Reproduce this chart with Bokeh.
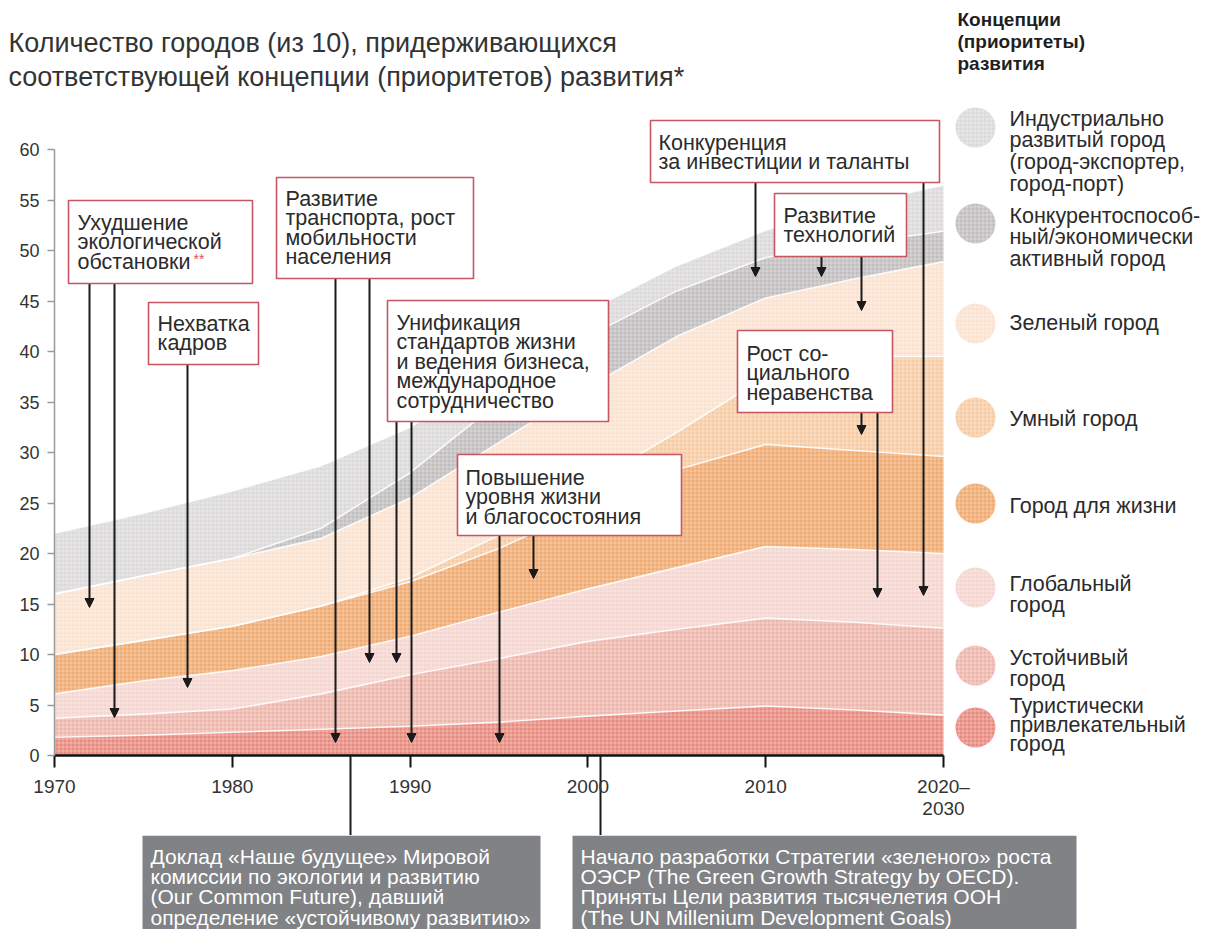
import numpy as np
from bokeh.plotting import figure
from bokeh.layouts import column, row
from bokeh.models import (Range1d, BoxAnnotation, Label, Arrow, NormalHead,
                          FixedTicker, ColumnDataSource, LinearAxis)
from bokeh.embed import file_html
from bokeh.resources import INLINE

# ---------------- data (number of cities per concept) ----------------
years       = [1970, 1975, 1980, 1985, 1990, 1995, 2000, 2005, 2010, 2015, 2020]
tourist     = [1.8, 2.0, 2.3, 2.6, 2.9, 3.3, 3.9, 4.4, 4.9, 4.5, 4.0]
sustainable = [1.9, 2.1, 2.3, 3.5, 5.1, 6.3, 7.4, 8.1, 8.7, 8.7, 8.6]
global_city = [2.4, 3.3, 3.8, 3.7, 3.8, 4.6, 5.2, 6.1, 7.1, 7.2, 7.4]
livable     = [3.9, 4.0, 4.4, 5.0, 5.4, 6.3, 8.0, 9.7, 10.1, 9.8, 9.6]
smart       = [0.0, 0.0, 0.0, 0.0, 0.4, 1.3, 2.3, 3.7, 6.7, 9.3, 9.9]
green       = [6.0, 6.4, 6.7, 6.7, 7.9, 9.2, 9.7, 9.5, 7.8, 7.7, 9.4]
competitive = [0.0, 0.0, 0.0, 1.0, 2.5, 4.0, 5.0, 4.5, 4.0, 3.5, 3.0]
industrial  = [6.0, 6.2, 6.7, 6.2, 4.5, 3.0, 2.5, 2.5, 2.7, 3.8, 4.6]

layer_keys = ["tourist", "sustainable", "global_city", "livable",
              "smart", "green", "competitive", "industrial"]
layer_vals = [tourist, sustainable, global_city, livable,
              smart, green, competitive, industrial]
layer_colors = ["#e98a7e", "#eeb6ab", "#f5d5cf", "#f1aa70",
                "#f6cba3", "#fae2cf", "#c1bebe", "#dbd9d9"]

legend_labels = {
    "industrial": ["Индустриально", "развитый город", "(город-экспортер,", "город-порт)"],
    "competitive": ["Конкурентоспособ-", "ный/экономически", "активный город"],
    "green": ["Зеленый город"],
    "smart": ["Умный город"],
    "livable": ["Город для жизни"],
    "global_city": ["Глобальный", "город"],
    "sustainable": ["Устойчивый", "город"],
    "tourist": ["Туристически", "привлекательный", "город"],
}
legend_order = ["industrial", "competitive", "green", "smart",
                "livable", "global_city", "sustainable", "tourist"]

x_ticks = [1970, 1980, 1990, 2000, 2010, 2020]
x_tick_labels = ["1970", "1980", "1990", "2000", "2010", "2020–"]
x_tick_second_line = {2020: "2030"}
y_ticks = list(range(0, 61, 5))
report_years = [1986.65, 2000.7]   # milestones marked under the time axis

title_lines = ["Количество городов (из 10), придерживающихся",
               "соответствующей концепции (приоритетов) развития*"]
legend_title = ["Концепции", "(приоритеты)", "развития"]

# ---------------- page geometry ----------------
TOTAL_W = 1216
TOP_H = 100          # title strip
BOT_Y = 835          # start of bottom strip
TOTAL_H = 929

PX0, PXS = 54.0, 17.78      # page x of 1970, px per year
PY0, PYS = 755.0, 10.1      # page y of value 0, px per unit


def X(px):
    return 1970 + (px - PX0) / PXS


def Y(py):
    return (PY0 - py) / PYS


FONT = "Liberation Sans"
TXT = "#2b2b2b"
HATCH = dict(hatch_pattern="+", hatch_scale=4, hatch_color="white",
             hatch_alpha=0.42, hatch_weight=0.8)


def blank_fig(w, h, x0, x1, y_bottom, y_top):
    f = figure(width=w, height=h, output_backend="svg", toolbar_location=None,
               x_range=Range1d(x0, x1), y_range=Range1d(y_bottom, y_top),
               x_axis_type=None, y_axis_type=None,
               min_border_left=0, min_border_right=0, min_border_top=0,
               min_border_bottom=0)
    f.xgrid.visible = False
    f.ygrid.visible = False
    f.outline_line_color = None
    f.background_fill_color = "white"
    f.border_fill_color = "white"
    return f


def lines_at(fig, lines, x, yc0, dy, size, color=TXT, style="normal",
             fx=lambda v: v, fy=lambda v: v):
    for i, t in enumerate(lines):
        fig.add_layout(Label(x=fx(x), y=fy(yc0 + i * dy), text=t, text_font=FONT,
                             text_font_size=f"{size}px", text_color=color,
                             text_font_style=style, text_align="left",
                             text_baseline="middle"))


# ---------------- top strip: title + legend heading ----------------
top = blank_fig(TOTAL_W, TOP_H, 0, TOTAL_W, TOP_H, 0)
lines_at(top, title_lines, 8, 42, 34, 27, color="#333333")
lines_at(top, legend_title, 957, 19, 22, 19, color="#1f1f1f", style="bold")

# ---------------- main chart (with legend column) ----------------
p = figure(width=TOTAL_W, height=BOT_Y - TOP_H, output_backend="svg",
           toolbar_location=None,
           x_range=Range1d(1970, X(TOTAL_W)), y_range=Range1d(0, Y(TOP_H)),
           min_border_left=int(PX0), min_border_right=0, min_border_top=0,
           min_border_bottom=int(BOT_Y - PY0))
p.xgrid.visible = False
p.ygrid.visible = False
p.outline_line_color = None
p.background_fill_color = "white"
p.border_fill_color = "white"

data = {"year": years}
for k, v in zip(layer_keys, layer_vals):
    data[k] = v
src = ColumnDataSource(data)
p.varea_stack(stackers=layer_keys, x="year", color=layer_colors, source=src, **HATCH)

cum = np.cumsum(np.array(layer_vals), axis=0)
for r in cum:
    p.line(years, r, line_color="white", line_width=1.6, line_alpha=0.85)

# time axis: decade ticks + long minor ticks leading to the milestone boxes
drop = int(BOT_Y - PY0)
xa = p.xaxis[0]
xa.ticker = FixedTicker(ticks=x_ticks, minor_ticks=report_years)
xa.major_label_overrides = {t: l for t, l in zip(x_ticks, x_tick_labels)}
xa.bounds = (1970, 2020)
xa.axis_line_color = "#111111"
xa.axis_line_width = 2.5
xa.major_tick_line_color = "#111111"
xa.major_tick_line_width = 2
xa.major_tick_out = 12
xa.major_tick_in = 0
xa.minor_tick_line_color = "#1a1a1a"
xa.minor_tick_line_width = 2
xa.minor_tick_out = drop
xa.minor_tick_in = 0
xa.major_label_text_font = FONT
xa.major_label_text_font_size = "19px"
xa.major_label_text_color = "#333333"
xa.major_label_standoff = 20 - drop

# second line of the last tick label
xa2 = LinearAxis(ticker=FixedTicker(ticks=list(x_tick_second_line.keys()), minor_ticks=[]),
                 major_label_overrides=x_tick_second_line)
xa2.axis_line_color = None
xa2.major_tick_line_color = None
xa2.minor_tick_line_color = None
xa2.major_tick_out = 0
xa2.major_tick_in = 0
xa2.minor_tick_out = 0
xa2.minor_tick_in = 0
xa2.major_label_text_font = FONT
xa2.major_label_text_font_size = "19px"
xa2.major_label_text_color = "#333333"
xa2.major_label_standoff = 2
p.add_layout(xa2, "below")

ya = p.yaxis[0]
ya.ticker = FixedTicker(ticks=y_ticks)
ya.bounds = (0, 60)
ya.axis_line_color = "#9a9a9a"
ya.axis_line_width = 1.5
ya.major_tick_line_color = "#9a9a9a"
ya.major_tick_line_width = 1.5
ya.major_tick_out = 7
ya.major_tick_in = 0
ya.minor_tick_out = 0
ya.minor_tick_in = 0
ya.major_label_text_font = FONT
ya.major_label_text_font_size = "18px"
ya.major_label_text_color = "#333333"
ya.major_label_standoff = 8


def head():
    return NormalHead(size=9, fill_color="#1a1a1a", line_color="#1a1a1a", line_width=1)


arrows = [  # x, y_from, y_to (page px)
    (89, 283, 607), (114, 283, 717), (187, 364, 687),
    (335, 278, 742), (369, 278, 662), (396, 421, 662), (411, 421, 742),
    (499, 535, 742), (533, 535, 578),
    (755, 182, 276), (923, 182, 595),
    (821, 256, 276), (861, 256, 310),
    (861, 412, 434), (877, 412, 597),
]
for ax_, y1, y2 in arrows:
    p.add_layout(Arrow(end=head(), x_start=X(ax_), y_start=Y(y1), x_end=X(ax_),
                       y_end=Y(y2), line_width=2, line_color="#1a1a1a"))

boxes = [  # left, right, top, bottom, text x, first line y, lines
    (68, 252, 200, 283, 77, 222, ["Ухудшение", "экологической", "обстановки"]),
    (148, 258, 302, 364, 157, 323, ["Нехватка", "кадров"]),
    (276, 473, 177, 278, 285, 198, ["Развитие", "транспорта, рост", "мобильности", "населения"]),
    (387, 608, 300, 421, 396, 322, ["Унификация", "стандартов жизни", "и ведения бизнеса,",
                                    "международное", "сотрудничество"]),
    (457, 681, 454, 535, 465, 477, ["Повышение", "уровня жизни", "и благосостояния"]),
    (650, 939, 120, 182, 658, 142, ["Конкуренция", "за инвестиции и таланты"]),
    (774, 906, 193, 256, 783, 215, ["Развитие", "технологий"]),
    (737, 892, 330, 412, 746, 353, ["Рост со-", "циального", "неравенства"]),
]
for l, r, t, b, tx, ty, lines in boxes:
    p.add_layout(BoxAnnotation(left=X(l), right=X(r), top=Y(t), bottom=Y(b),
                               fill_color="white", fill_alpha=1.0,
                               line_color="#c85660", line_width=1.6, line_alpha=1.0))
    lines_at(p, lines, tx, ty, 19.5, 21.5, fx=X, fy=Y)
p.add_layout(Label(x=X(193), y=Y(258), text="**", text_font=FONT,
                   text_font_size="14px", text_color="#e0505c",
                   text_align="left", text_baseline="middle"))

# legend (right column of the chart)
legend_cy = [127, 223, 323, 417, 503, 587, 665, 727]
legend_ty = [118, 215, 322, 418, 505, 583, 657, 705]
legend_dy = [21.7, 21.7, 21.7, 21.7, 21.7, 21.7, 21.7, 19]
col_of = dict(zip(layer_keys, layer_colors))
p.scatter(x=[X(975)] * len(legend_order), y=[Y(c) for c in legend_cy], size=40,
          fill_color=[col_of[k] for k in legend_order], line_color=None, **HATCH)
for k, ty, dy in zip(legend_order, legend_ty, legend_dy):
    lines_at(p, legend_labels[k], 1009, ty, dy, 21.5, fx=X, fy=Y)

# ---------------- bottom strip: milestone boxes ----------------
bot = blank_fig(TOTAL_W, TOTAL_H - BOT_Y, 0, TOTAL_W, TOTAL_H, BOT_Y)
bottom_boxes = [
    (142, 540, ["Доклад «Наше будущее» Мировой",
                "комиссии по экологии и развитию",
                "(Our Common Future), давший",
                "определение «устойчивому развитию»"]),
    (572, 1076, ["Начало разработки Стратегии «зеленого» роста",
                 "ОЭСР (The Green Growth Strategy by OECD).",
                 "Приняты Цели развития тысячелетия ООН",
                 "(The UN Millenium Development Goals)"]),
]
for l, r, lines in bottom_boxes:
    bot.add_layout(BoxAnnotation(left=l, right=r, top=BOT_Y, bottom=TOTAL_H + 10,
                                 fill_color="#808285", fill_alpha=1.0, line_color=None))
    lines_at(bot, lines, l + 8, 856, 20.2, 21, color="white")

layout = column(top, row(p), bot)
open("out.html", "w").write(file_html(layout, INLINE))
